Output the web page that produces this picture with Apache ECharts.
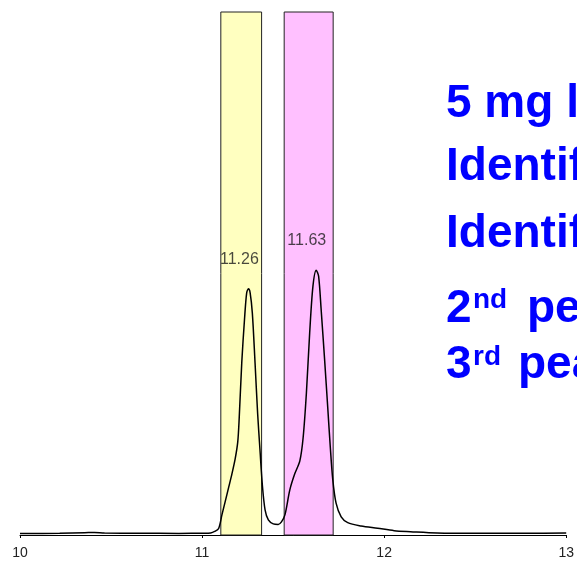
<!DOCTYPE html>
<html>
<head>
<meta charset="utf-8">
<script src="https://cdn.jsdelivr.net/npm/echarts@6/dist/echarts.min.js"></script>
<style>
html,body{margin:0;padding:0;background:#fff;}
#chart{width:577px;height:562px;}
</style>
</head>
<body>
<div id="chart"></div>
<script>
// Retention time (min)
const times = [10.000, 10.218, 10.355, 10.409, 10.464, 10.655, 10.873, 11.009, 11.047, 11.069,
  11.091, 11.109, 11.128, 11.146, 11.164, 11.182, 11.196, 11.204, 11.218, 11.233,
  11.245, 11.255, 11.264, 11.276, 11.291, 11.305, 11.318, 11.331, 11.346, 11.364,
  11.391, 11.418, 11.436, 11.455, 11.482, 11.509, 11.537, 11.555, 11.573, 11.591,
  11.609, 11.627, 11.640, 11.654, 11.673, 11.691, 11.704, 11.718, 11.736, 11.764,
  11.800, 11.873, 11.964, 12.055, 12.145, 12.291, 12.509, 12.782, 13.000];
// Detector signal (relative)
const signal = [0.30, 0.33, 0.43, 0.49, 0.39, 0.33, 0.31, 0.33, 0.39, 0.68,
  1.25, 3.84, 6.52, 9.10, 11.69, 14.60, 17.80, 22.40, 32.96, 41.20,
  46.31, 47.08, 46.31, 42.48, 32.90, 23.32, 16.29, 9.59, 4.80, 2.88,
  2.12, 2.02, 2.50, 3.84, 8.63, 11.69, 14.18, 18.59, 27.15, 38.65,
  47.58, 50.64, 49.49, 43.11, 33.53, 23.95, 16.92, 10.54, 6.08, 3.46,
  2.36, 1.73, 1.29, 0.83, 0.64, 0.39, 0.33, 0.33, 0.39];
// Highlighted windows
const windowStarts = [11.103, 11.451];
const windowEnds = [11.327, 11.720];
const windowColors = ['#FFFFC0', '#FFC0FF'];
// Peak annotations
const peakTimes = [11.26, 11.63];
const peakHeights = [47.0, 50.6];
// X tick labels
const xTicks = [10, 11, 12, 13];

const chart = echarts.init(document.getElementById('chart'), null, {renderer: 'canvas'});
const lineData = times.map((t, i) => [t, signal[i]]);
const areaData = windowStarts.map((s, i) => [
  {xAxis: s, itemStyle: {color: windowColors[i], borderColor: '#222', borderWidth: 1}},
  {xAxis: windowEnds[i]}
]);

const F = '"Liberation Sans", Arial, sans-serif';
const blue = '#0000FF';
function txt(text, x, y, size) {
  return {type: 'text', x: x, y: y, z: 100, silent: true,
    style: {text: text, fill: blue, font: 'bold ' + size + 'px ' + F, align: 'left', verticalAlign: 'middle'}};
}

chart.setOption({
  animation: false,
  backgroundColor: '#fff',
  grid: {left: 20, right: 7, top: 12, bottom: 27},
  xAxis: {
    type: 'value', min: xTicks[0], max: xTicks[xTicks.length - 1], interval: 1,
    axisLine: {show: true, lineStyle: {color: '#000', width: 1}},
    axisTick: {show: true, length: 3, lineStyle: {color: '#000'}},
    splitLine: {show: false},
    axisLabel: {color: '#222', fontSize: 14, fontFamily: F, margin: 11, showMaxLabel: true, showMinLabel: true}
  },
  yAxis: {
    type: 'value', min: 0, max: 100, show: false, splitLine: {show: false}
  },
  series: [
    {
      type: 'line', data: [], z: 1, silent: true,
      markArea: {silent: true, data: areaData}
    },
    {
      type: 'line', data: lineData, z: 3, smooth: 0.3, showSymbol: false, symbol: 'none',
      lineStyle: {color: '#000', width: 1.5}
    },
    {
      type: 'scatter', z: 4, symbolSize: 0,
      data: peakTimes.map((t, i) => [t, peakHeights[i]]),
      label: {show: true, position: 'top', distance: 22, offset: [-10, 0],
        formatter: p => p.value[0].toFixed(2),
        color: '#1a1a1a', fontSize: 16, fontFamily: F}
    }
  ],
  graphic: [
    txt('5 mg loaded', 446, 104.1, 46),
    txt('Identified', 446, 167.4, 46),
    txt('Identified', 446, 234.1, 46),
    txt('2', 446, 309.1, 46),
    txt('nd', 473, 300.5, 28),
    txt('peak', 527, 309.1, 46),
    txt('3', 446, 365.8, 46),
    txt('rd', 473, 357.5, 28),
    txt('peak', 518, 365.8, 46)
  ]
});
</script>
</body>
</html>
